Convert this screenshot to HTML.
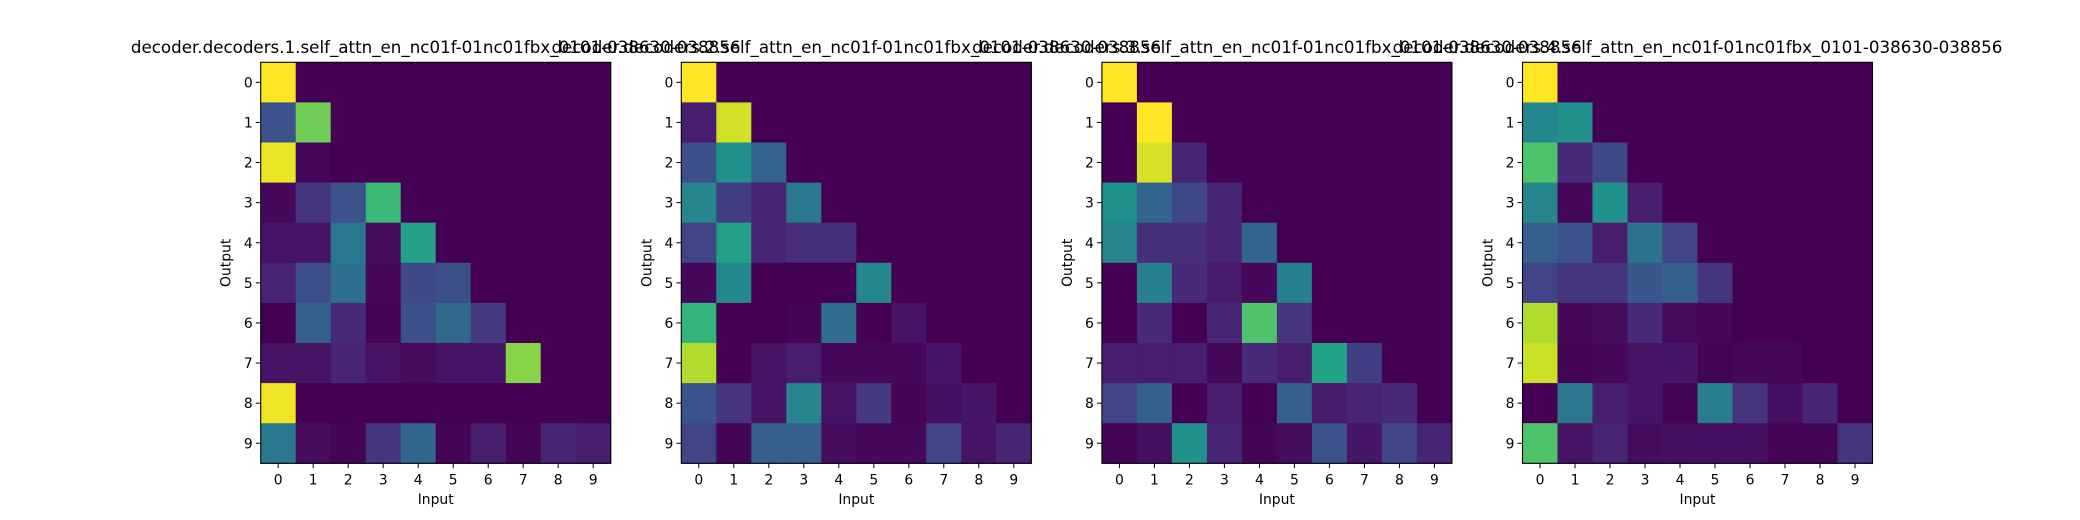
<!DOCTYPE html>
<html><head><meta charset="utf-8"><style>
html,body{margin:0;padding:0;background:#fff;}
svg{display:block;font-family:"DejaVu Sans","Liberation Sans",sans-serif;}
</style></head><body>
<svg id="fig" width="2080" height="520" xmlns="http://www.w3.org/2000/svg"></svg>
<script>
const inputLabels = ['0','1','2','3','4','5','6','7','8','9'];
const outputLabels = ['0','1','2','3','4','5','6','7','8','9'];
const titles = [
 'decoder.decoders.1.self_attn_en_nc01f-01nc01fbx_0101-038630-038856',
 'decoder.decoders.2.self_attn_en_nc01f-01nc01fbx_0101-038630-038856',
 'decoder.decoders.3.self_attn_en_nc01f-01nc01fbx_0101-038630-038856',
 'decoder.decoders.4.self_attn_en_nc01f-01nc01fbx_0101-038630-038856'
];
const attn1 = [
 [1],
 [0.25,0.78],
 [0.97,0.02],
 [0.02,0.15,0.25,0.67],
 [0.05,0.05,0.4,0.03,0.57],
 [0.1,0.24,0.36,0.02,0.22,0.24],
 [0,0.3,0.12,0.01,0.24,0.34,0.17],
 [0.05,0.05,0.1,0.05,0.03,0.05,0.05,0.82],
 [0.98],
 [0.4,0.03,0.01,0.15,0.33,0.01,0.08,0.01,0.1,0.08]
];
const attn2 = [
 [1],
 [0.08,0.93],
 [0.24,0.5,0.32],
 [0.45,0.18,0.1,0.4],
 [0.2,0.57,0.1,0.13,0.13],
 [0.02,0.47,0,0,0,0.46],
 [0.65,0,0,0.01,0.35,0,0.05],
 [0.88,0,0.05,0.08,0.02,0.02,0.02,0.06],
 [0.26,0.15,0.05,0.45,0.05,0.17,0.01,0.04,0.06,0],
 [0.2,0.01,0.3,0.3,0.03,0.02,0.02,0.2,0.05,0.1]
];
const attn3 = [
 [1],
 [0,1],
 [0,0.94,0.1],
 [0.5,0.32,0.22,0.1],
 [0.45,0.13,0.13,0.1,0.32],
 [0,0.43,0.12,0.07,0.02,0.43],
 [0,0.12,0,0.1,0.72,0.15],
 [0.08,0.08,0.08,0.02,0.12,0.08,0.58,0.18],
 [0.2,0.3,0,0.08,0,0.3,0.07,0.1,0.12,0],
 [0.01,0.04,0.5,0.1,0.01,0.03,0.25,0.06,0.2,0.1]
];
const attn4 = [
 [1],
 [0.46,0.5],
 [0.72,0.12,0.22],
 [0.45,0.02,0.5,0.08],
 [0.3,0.25,0.08,0.38,0.2],
 [0.2,0.15,0.15,0.27,0.3,0.15],
 [0.88,0.02,0.03,0.12,0.03,0.02],
 [0.92,0.01,0.02,0.05,0.06,0.01,0.02,0.02],
 [0,0.4,0.08,0.05,0.01,0.42,0.15,0.04,0.1,0],
 [0.72,0.05,0.1,0.03,0.04,0.04,0.04,0.01,0.01,0.15]
];
const matrices = [attn1, attn2, attn3, attn4];

const VIR = ['#440154','#482475','#414487','#355f8d','#2a788e','#21918c','#22a884','#44bf70','#7ad151','#bddf26','#fde725'];
function hex(h){return [parseInt(h.slice(1,3),16),parseInt(h.slice(3,5),16),parseInt(h.slice(5,7),16)];}
function viridis(v){
  v=Math.max(0,Math.min(1,v))*10; const i=Math.min(9,Math.floor(v)); const t=v-i;
  const a=hex(VIR[i]), b=hex(VIR[i+1]);
  return 'rgb('+a.map((c,k)=>Math.round(c+(b[k]-c)*t)).join(',')+')';
}
const NS='http://www.w3.org/2000/svg';
const svg=document.getElementById('fig');
function mk(tag, attrs, parent){const e=document.createElementNS(NS,tag);for(const k in attrs)e.setAttribute(k,attrs[k]);(parent||svg).appendChild(e);return e;}

const AX_W=350, AX_H=401, AX_TOP=62.3;
const axLeft = i => 260.7 + i*420.6;
matrices.forEach((m, p) => {
  const x0 = axLeft(p);
  const g = mk('g', {});
  
  
  const nx = inputLabels.length, ny = outputLabels.length;
  const cw = AX_W/nx, ch = AX_H/ny;
  const xS = j => x0 + j*cw;
  const yS = r => AX_TOP + r*ch;
  for (let r=0;r<ny;r++) for (let c=0;c<nx;c++){
    const v = (m[r] && m[r][c]!==undefined) ? m[r][c] : 0;
    const rect = mk('rect',{x:xS(c),y:yS(r),width:cw+0.5,height:ch+0.5,fill:viridis(v)},g);
    
    
  }
  const frame = mk('rect',{x:x0,y:AX_TOP,width:AX_W,height:AX_H,fill:'none',stroke:'#000','stroke-width':1.1},g);
  
  
  inputLabels.forEach((lab,j)=>{
    const cx = xS(j)+cw/2;
    mk('line',{x1:cx,x2:cx,y1:AX_TOP+AX_H,y2:AX_TOP+AX_H+4.9,stroke:'#000','stroke-width':1},g);
    const t = mk('text',{x:cx,y:AX_TOP+AX_H+21,'text-anchor':'middle','font-size':'13.9px',fill:'#000'},g);
    t.textContent = lab;
    
    
  });
  outputLabels.forEach((lab,r)=>{
    const cy = yS(r)+ch/2;
    mk('line',{x1:x0-4.9,x2:x0,y1:cy,y2:cy,stroke:'#000','stroke-width':1},g);
    const t = mk('text',{x:x0-8,y:cy+5,'text-anchor':'end','font-size':'13.9px',fill:'#000'},g);
    t.textContent = lab;
    
    
  });
  const xl = mk('text',{x:x0+AX_W/2,y:504,'text-anchor':'middle','font-size':'13.9px',fill:'#000'},g);
  xl.textContent='Input';
  
  
  const yx = x0-30, yy = AX_TOP+AX_H/2;
  const yl = mk('text',{x:yx,y:yy,'text-anchor':'middle','font-size':'13.9px',fill:'#000',transform:'rotate(-90 '+yx+' '+yy+')'},g);
  yl.textContent='Output';
  
  
  const tt = mk('text',{x:x0+AX_W/2,y:53,'text-anchor':'middle','font-size':'16.7px',fill:'#000'},g);
  tt.textContent = titles[p];
  
  
});
</script>
</body></html>
